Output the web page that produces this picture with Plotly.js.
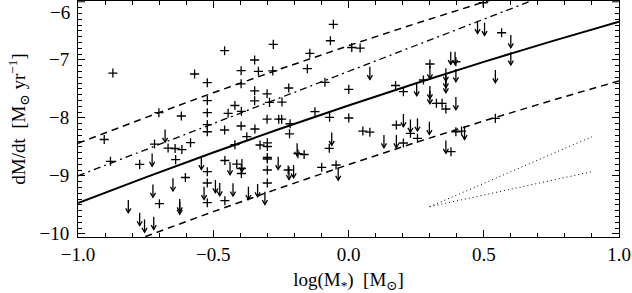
<!DOCTYPE html>
<html>
<head>
<meta charset="utf-8">
<script src="https://cdn.plot.ly/plotly-3.0.1.min.js"></script>
<style>html,body{margin:0;padding:0;background:#fff;}#chart{width:632px;height:293px;}</style>
</head>
<body>
<div id="chart"></div>
<script>
// detections (plus markers)
const plusX = [-0.871,-0.458,-0.569,-0.522,-0.522,-0.701,-0.618,-0.522,-0.420,-0.445,-0.522,-0.522,-0.458,-0.903,-0.717,-0.667,-0.641,-0.616,-0.584,-0.880,-0.772,-0.639,-0.522,-0.457,-0.603,-0.522,-0.699,-0.522,-0.457,
-0.278,-0.056,-0.067,-0.347,-0.143,0.012,0.043,-0.397,-0.333,-0.280,-0.152,-0.397,-0.087,-0.347,-0.301,-0.221,0.001,-0.347,-0.292,-0.246,-0.396,-0.124,-0.301,-0.258,-0.247,-0.216,-0.070,0.001,-0.397,-0.346,-0.376,-0.218,0.053,0.079,-0.420,-0.327,
-0.300,-0.300,-0.300,-0.300,-0.300,-0.300,-0.187,-0.164,-0.071,-0.223,-0.099,-0.046,-0.413,-0.396,-0.396,
0.498,0.566,0.397,0.301,0.277,0.174,0.203,0.325,0.346,0.360,0.177,0.229,0.203,0.255,0.397,0.418,0.543,0.379];
const plusY = [-7.228,-6.843,-7.245,-7.395,-7.702,-7.912,-7.969,-7.912,-7.788,-7.922,-8.116,-8.240,-8.210,-8.374,-8.452,-8.521,-8.529,-8.547,-8.429,-8.750,-8.802,-8.721,-8.929,-8.736,-9.029,-9.124,-9.481,-9.464,-9.429,
-6.733,-6.388,-6.671,-7.003,-6.888,-6.788,-6.797,-7.188,-7.198,-7.190,-7.153,-7.414,-7.388,-7.534,-7.586,-7.486,-7.509,-7.707,-7.733,-7.728,-7.888,-7.895,-8.024,-8.024,-8.024,-8.102,-7.991,-8.003,-8.141,-8.193,-8.326,-8.276,-8.228,-8.248,-8.464,-8.469,
-8.433,-8.495,-8.684,-8.710,-8.900,-9.124,-8.619,-8.633,-8.526,-8.900,-8.853,-8.814,-8.797,-8.874,-8.960,
-6.016,-6.533,-7.033,-7.072,-7.348,-7.443,-7.550,-7.750,-7.750,-7.848,-8.124,-8.267,-8.434,-8.353,-8.240,-8.228,-8.009,-8.584];

// upper limits (down arrows)
const limX = [-0.678,-0.726,-0.544,-0.438,-0.649,-0.723,-0.492,-0.476,-0.534,-0.427,-0.814,-0.624,-0.624,-0.772,-0.754,-0.720,
0.079,0.252,0.301,0.301,0.203,0.229,0.255,0.299,0.131,0.177,-0.062,-0.190,-0.260,-0.220,-0.203,-0.038,-0.394,-0.370,-0.336,-0.309,
0.477,0.503,0.600,0.600,0.378,0.394,0.301,0.360,0.360,0.397,0.543,0.397,0.429,0.360,0.360];
const limY = [-8.202,-8.616,-8.671,-8.762,-9.043,-9.150,-9.072,-9.124,-9.188,-9.129,-9.417,-9.400,-9.443,-9.638,-9.753,-9.705,
-7.119,-7.400,-7.452,-7.538,-7.934,-8.029,-8.009,-8.067,-8.297,-8.297,-8.253,-8.440,-8.671,-8.843,-8.814,-8.857,-8.710,-9.188,-9.141,-9.274,
-6.326,-6.360,-6.572,-6.869,-6.860,-6.860,-7.107,-7.147,-7.262,-7.159,-7.176,-7.641,-8.153,-8.391,-7.348];

// relation curves
const fitX = [-1.0,-0.75,-0.5,-0.25,0.0,0.25,0.5,0.75,1.0];
const fitY = [-9.469,-9.026,-8.598,-8.185,-7.787,-7.403,-7.035,-6.682,-6.343];
const upperY = [-8.439,-7.996,-7.568,-7.155,-6.757,-6.373,-6.005,-5.652,-5.313];
const lowerY = [-10.489,-10.046,-9.618,-9.205,-8.807,-8.423,-8.055,-7.702,-7.363];
const dashDotX = [-1.0, 1.0];
const dashDotY = [-9.00, -5.40];
const dotAX = [0.30, 0.90];
const dotAY = [-9.533, -8.326];
const dotBX = [0.30, 0.90];
const dotBY = [-9.533, -8.929];

const xTickVals = [-1.0,-0.5,0.0,0.5,1.0];
const xTickText = ['\u22121.0','\u22120.5','0.0','0.5','1.0'];
const yTickVals = [-10,-9,-8,-7];
const yTickText = ['\u221210','\u22129','\u22128','\u22127'];
const yTopTick = -6;
const yTopText = '\u22126';

// arrow glyph size (in axis units)
const arrowLen = 0.22, headHalfW = 0.0095, headH = 0.075;
const arrX = [], arrY = [];
limX.forEach((xv, i) => {
  const yv = limY[i], tip = yv - arrowLen;
  arrX.push(xv, xv, null, xv - headHalfW, xv, xv + headHalfW, null);
  arrY.push(yv, tip, null, tip + headH, tip, tip + headH, null);
});

const font = 'Liberation Serif, DejaVu Serif, serif';
const traces = [
  {x: fitX, y: fitY, mode:'lines', line:{color:'#000', width:2}, hoverinfo:'skip'},
  {x: fitX, y: upperY, mode:'lines', line:{color:'#000', width:1.5, dash:'7px,5px'}, hoverinfo:'skip'},
  {x: fitX, y: lowerY, mode:'lines', line:{color:'#000', width:1.5, dash:'7px,5px'}, hoverinfo:'skip'},
  {x: dashDotX, y: dashDotY, mode:'lines', line:{color:'#000', width:1.3, dash:'7px,4px,2px,4px'}, hoverinfo:'skip'},
  {x: dotAX, y: dotAY, mode:'lines', line:{color:'#000', width:1, dash:'1px,3px'}, hoverinfo:'skip'},
  {x: dotBX, y: dotBY, mode:'lines', line:{color:'#000', width:1, dash:'1px,3px'}, hoverinfo:'skip'},
  {x: arrX, y: arrY, mode:'lines', connectgaps:false, line:{color:'#000', width:1.3}, hoverinfo:'skip'},
  {x: plusX, y: plusY, mode:'markers', marker:{symbol:'cross-thin-open', size:6.5, color:'#000', line:{color:'#000', width:1.3}}}
];

const layout = {
  width:632, height:293,
  margin:{l:78, r:13, t:1, b:56},
  paper_bgcolor:'#fff', plot_bgcolor:'#fff',
  showlegend:false,
  font:{family:font, size:19, color:'#000'},
  xaxis:{range:[-1,1], tickvals:xTickVals, ticktext:xTickText, ticks:'inside', ticklen:7, tickwidth:1, tickcolor:'#000',
    minor:{dtick:0.1, ticks:'inside', ticklen:4, tickcolor:'#000', tick0:0},
    showline:true, linecolor:'#000', linewidth:1, mirror:'ticks', showgrid:false, zeroline:false,
    tickfont:{family:font, size:19},
    title:{text:'log(M<sub>*</sub>)  [M<sub>\u2299</sub>]', font:{family:font, size:19}, standoff:10}},
  yaxis:{range:[-10.055,-5.986], tickvals:yTickVals, ticktext:yTickText, ticks:'inside', ticklen:7, tickwidth:1, tickcolor:'#000',
    minor:{dtick:0.1, ticks:'inside', ticklen:4, tickcolor:'#000', tick0:0},
    showline:true, linecolor:'#000', linewidth:1, mirror:'ticks', showgrid:false, zeroline:false,
    tickfont:{family:font, size:19}, ticklabelstandoff:4,
    title:{text:'dM/dt  [M<sub>\u2299</sub> yr<sup>\u22121</sup>]', font:{family:font, size:19}, standoff:8}},
  shapes:[{type:'line', xref:'paper', yref:'y', x0:0, x1:0.013, y0:yTopTick, y1:yTopTick, line:{color:'#000', width:1}},
          {type:'line', xref:'paper', yref:'y', x0:0.987, x1:1, y0:yTopTick, y1:yTopTick, line:{color:'#000', width:1}}],
  annotations:[{xref:'paper', yref:'y', x:0, y:yTopTick, text:yTopText, showarrow:false, xanchor:'right', yanchor:'top',
    xshift:-6, yshift:2, font:{family:font, size:19, color:'#000'}}]
};
Plotly.newPlot('chart', traces, layout, {staticPlot:true, displayModeBar:false});
</script>
</body>
</html>
